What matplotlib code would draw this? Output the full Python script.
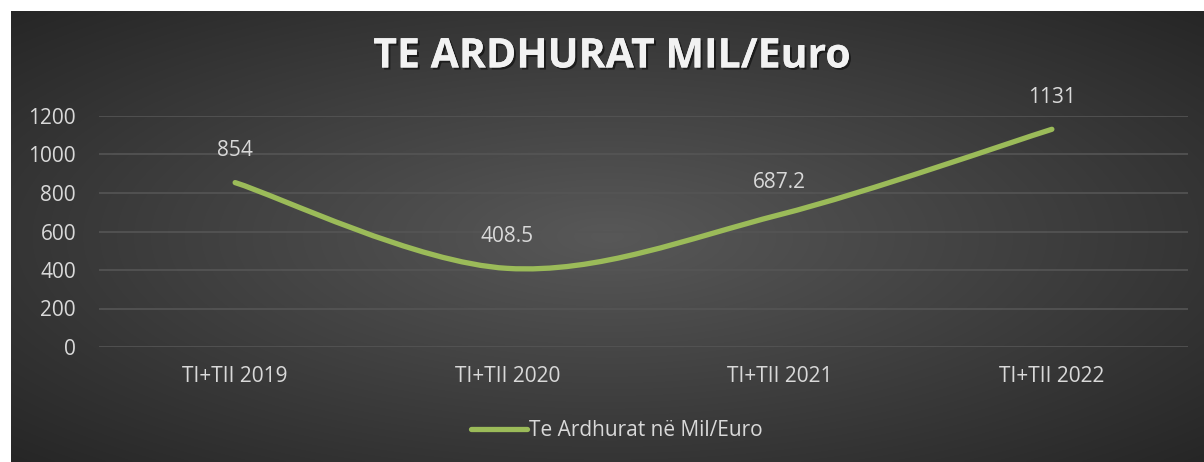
import numpy as np
import matplotlib
matplotlib.use("Agg")
import matplotlib.pyplot as plt
from matplotlib.path import Path
from matplotlib.patches import PathPatch
import matplotlib.patheffects as pe

# te dhenat
kategorite = ["TI+TII 2019", "TI+TII 2020", "TI+TII 2021", "TI+TII 2022"]
te_ardhurat = [854, 408.5, 687.2, 1131]
etiketat = ["854", "408.5", "687.2", "1131"]
y_ticks = [0, 200, 400, 600, 800, 1000, 1200]

plt.rcParams['font.family'] = ['Open Sans', 'DejaVu Sans']
W, H = 1204, 462
fs = 15
fig = plt.figure(figsize=(W / 100, H / 100), dpi=100)
fig.patch.set_facecolor("white")

# sfondi me gradient radial
bg = fig.add_axes([11 / W, 0, 1 - 11 / W, 1 - 11 / H])
bg.set_axis_off()
gx, gy = np.meshgrid(np.linspace(-1, 1, 400), np.linspace(-1, 1, 200))
r = np.clip(np.sqrt(gx ** 2 + gy ** 2) / np.sqrt(2), 0, 1)
shade = 0.345 - (0.345 - 0.15) * r
img = np.dstack([shade, shade, shade])
bg.imshow(img, aspect="auto", extent=[0, 1, 0, 1], interpolation="bilinear")
bg.set_xlim(0, 1)
bg.set_ylim(0, 1)

ax = fig.add_axes([99 / W, 1 - 347 / H, (1188 - 99) / W, (347 - 116) / H])
ax.patch.set_alpha(0)
x = np.arange(len(kategorite))
ax.set_xlim(-0.5, len(kategorite) - 0.5)
ax.set_ylim(0, 1200)
ax.set_yticks(y_ticks)
ax.set_xticks(x)
ax.set_xticklabels(kategorite)
ax.grid(axis="y", color="#555555", linewidth=1.2)
ax.set_axisbelow(True)
for s in ax.spines.values():
    s.set_visible(False)
ax.tick_params(length=0, colors="#d9d9d9", labelsize=fs)
ax.tick_params(axis="y", pad=16.5)
ax.tick_params(axis="x", pad=14)

# vije e lemuar (Bezier si ne Excel)
pts = np.column_stack([x, te_ardhurat]).astype(float)
verts = [pts[0]]
codes = [Path.MOVETO]
t = 1 / 6
for i in range(len(pts) - 1):
    p0 = pts[i - 1] if i > 0 else pts[i]
    p1, p2 = pts[i], pts[i + 1]
    p3 = pts[i + 2] if i + 2 < len(pts) else pts[i + 1]
    c1 = p1 + (p2 - p0) * t
    c2 = p2 - (p3 - p1) * t
    verts += [c1, c2, p2]
    codes += [Path.CURVE4] * 3
patch = PathPatch(Path(verts, codes), facecolor="none", edgecolor="#9bbb59",
                  linewidth=3.8, capstyle="round", joinstyle="round")
ax.add_patch(patch)

for xi, yi, lab in zip(x, te_ardhurat, etiketat):
    ax.annotate(lab, (xi, yi), xytext=(0, 23), textcoords="offset points",
                ha="center", va="center", color="#d9d9d9", fontsize=fs)

# legjenda
ax.plot([], [], color="#9bbb59", linewidth=3.8, solid_capstyle="round",
        label="Te Ardhurat në Mil/Euro")
leg = ax.legend(loc="center", bbox_to_anchor=(617 / W, 1 - 431 / H), bbox_transform=fig.transFigure,
                frameon=False, fontsize=fs, handlelength=2.7, handletextpad=0.1,
                labelcolor="#d9d9d9")

fig.text(612 / W, 1 - 57 / H, "TE ARDHURAT MIL/Euro", ha="center", va="center",
         color="#f2f2f2", fontsize=29.5, fontweight="bold",
         path_effects=[pe.withSimplePatchShadow(offset=(1.5, -1.5), shadow_rgbFace="black", alpha=0.5),
                       pe.Normal()])

fig.savefig("out.png", dpi=100, facecolor=fig.get_facecolor())
